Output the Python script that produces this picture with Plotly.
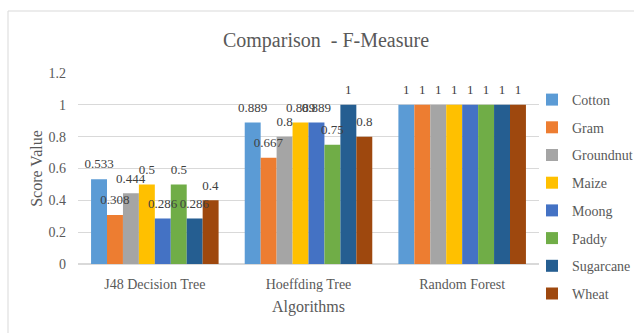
import plotly.graph_objects as go

algorithms = ["J48 Decision Tree", "Hoeffding Tree", "Random Forest"]
crops = ["Cotton", "Gram", "Groundnut", "Maize", "Moong", "Paddy", "Sugarcane", "Wheat"]
cotton = [0.533, 0.889, 1]
gram = [0.308, 0.667, 1]
groundnut = [0.444, 0.8, 1]
maize = [0.5, 0.889, 1]
moong = [0.286, 0.889, 1]
paddy = [0.5, 0.75, 1]
sugarcane = [0.286, 1, 1]
wheat = [0.4, 0.8, 1]
series = [cotton, gram, groundnut, maize, moong, paddy, sugarcane, wheat]
colors = ["#5B9BD5", "#ED7D31", "#A5A5A5", "#FFC000", "#4472C4", "#70AD47", "#255E91", "#9E480E"]
y_ticks = [0, 0.2, 0.4, 0.6, 0.8, 1, 1.2]

SERIF = "Liberation Serif"
GREY = "#595959"
LABEL_LIFT = 0.03  # extra gap between bar top and its value label (axis units)

fig = go.Figure()
# coloured bars
for i, (name, vals, c) in enumerate(zip(crops, series, colors)):
    fig.add_trace(go.Bar(
        name=name, x=algorithms, y=vals, marker_color=c, marker_line_width=0,
        legendgroup=name, offsetgroup=str(i),
    ))
# value labels drawn on top of all bars (transparent overlay bars sharing offsets)
for i, (name, vals) in enumerate(zip(crops, series)):
    fig.add_trace(go.Bar(
        name=name, x=algorithms, y=vals, base=LABEL_LIFT,
        marker_color="rgba(0,0,0,0)", marker_line_width=0,
        offsetgroup=str(i), showlegend=False, hoverinfo="skip",
        text=[f"{v:g}" for v in vals], textposition="outside", cliponaxis=False,
        textfont=dict(family=SERIF, size=13, color="#404040"),
    ))

L, R, T, B = 78, 95, 73, 69
W, H = 634, 333
pw, ph = W - L - R, H - T - B

fig.update_layout(
    width=W, height=H, barmode="group", bargap=0.17, bargroupgap=0,
    margin=dict(l=L, r=R, t=T, b=B, autoexpand=False),
    paper_bgcolor="white", plot_bgcolor="white",
    font=dict(family=SERIF, color=GREY),
    uniformtext=dict(minsize=13, mode="show"),
    title=dict(text="Comparison  - F-Measure", x=326 / W, xanchor="center", y=1 - 40 / H, yanchor="middle",
               font=dict(size=20, color=GREY, family=SERIF)),
    yaxis=dict(range=[0, 1.2], tickvals=y_ticks, ticktext=[f"{v:g}" for v in y_ticks],
               showgrid=True, gridcolor="#D9D9D9", gridwidth=1, zeroline=True, zerolinecolor="#D9D9D9",
               tickfont=dict(size=14, color=GREY, family=SERIF), ticks="", ticklabelstandoff=11,
               title=dict(text="Score Value", font=dict(size=16, color=GREY, family=SERIF), standoff=1)),
    xaxis=dict(tickfont=dict(size=14, color=GREY, family=SERIF), ticks="", showline=False,
               ticklabelstandoff=10,
               title=dict(text="Algorithms", font=dict(size=16, color=GREY, family=SERIF), standoff=9)),
    legend=dict(xref="container", yref="container", x=532 / W, y=1 - 84 / H, xanchor="left", yanchor="top",
                font=dict(size=14, color=GREY, family=SERIF), maxheight=400,
                tracegroupgap=6.5, itemwidth=30, bgcolor="rgba(0,0,0,0)"),
    showlegend=True,
)
fig.add_shape(type="rect", xref="paper", yref="paper",
              x0=(8 - L) / pw, x1=(650 - L) / pw, y0=(264 - 350) / ph, y1=(264 - 11) / ph,
              line=dict(color="#D9D9D9", width=1), layer="below")
fig.write_html("out.html")
